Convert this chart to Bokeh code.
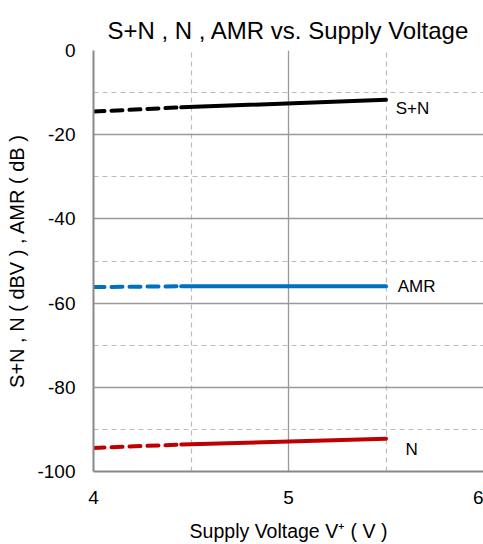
from bokeh.plotting import figure
from bokeh.models import FixedTicker, ColumnDataSource
from bokeh.core.properties import value
from bokeh.embed import file_html
from bokeh.resources import INLINE

# Data
voltages = [4.0, 4.45, 5.5]
s_plus_n = [-14.5, -13.5, -11.7]
amr = [-56.2, -56.0, -56.0]
noise = [-94.4, -93.6, -92.2]

x_ticks = [4, 5, 6]
y_ticks = [0, -20, -40, -60, -80, -100]
x_minor = [4.5, 5.5]
y_minor = [-10, -30, -50, -70, -90]

label_text = ["S+N", "AMR", "N"]
label_x = [5.55, 5.56, 5.6]
label_y = [-13.8, -56.0, -94.8]

FONT = "Liberation Sans"

p = figure(width=483, height=544, x_range=(4, 6), y_range=(-100, 0),
           output_backend="svg", toolbar_location=None,
           min_border_left=93, min_border_right=0, min_border_top=50,
           min_border_bottom=73)
p.outline_line_color = None
p.background_fill_color = "white"
p.border_fill_color = "white"

p.title.text = "S+N , N , AMR vs. Supply Voltage"
p.title.align = "center"
p.title.vertical_align = "top"
p.title.text_font = FONT
p.title.text_font_size = "24px"
p.title.text_font_style = "normal"
p.title.text_color = "#000000"
p.title.standoff = 10

p.xaxis.ticker = FixedTicker(ticks=x_ticks, minor_ticks=x_minor)
p.yaxis.ticker = FixedTicker(ticks=y_ticks, minor_ticks=y_minor)
p.xaxis.major_label_overrides = {t: str(t) for t in x_ticks}
p.yaxis.major_label_overrides = {t: str(t) for t in y_ticks}
for ax in (p.xaxis, p.yaxis):
    ax.axis_line_color = "#888888"
    ax.axis_line_width = 2
    ax.major_tick_line_color = None
    ax.minor_tick_line_color = None
    ax.major_tick_out = 0
    ax.major_tick_in = 0
    ax.minor_tick_out = 0
    ax.minor_tick_in = 0
    ax.major_label_text_font = FONT
    ax.major_label_text_font_size = "19px"
    ax.major_label_text_color = "#000000"
    ax.axis_label_text_font = FONT
    ax.axis_label_text_font_style = "normal"
    ax.axis_label_text_color = "#000000"
p.xaxis.axis_label_text_font_size = "19.5px"
p.yaxis.axis_label_text_font_size = "20px"
p.xaxis.major_label_standoff = 19
p.yaxis.major_label_standoff = 18
p.xaxis.axis_label = "Supply Voltage V\u207a ( V )"
p.yaxis.axis_label = "S+N , N ( dBV ) , AMR ( dB )"
p.xaxis.axis_label_standoff = 13
p.yaxis.axis_label_standoff = 6

for g in (p.xgrid, p.ygrid):
    g.grid_line_color = "#999999"
    g.grid_line_width = 1.3
    g.minor_grid_line_color = "#bbbbbb"
    g.minor_grid_line_dash = "5 4"
    g.minor_grid_line_width = 1.2

series = [(s_plus_n, "#000000"), (amr, "#0070C0"), (noise, "#C00000")]
for ys, col in series:
    p.line(voltages[:2], ys[:2], line_color=col, line_width=4,
           line_dash="11 7", line_cap="round")
    p.line(voltages[1:], ys[1:], line_color=col, line_width=4,
           line_cap="round")

src = ColumnDataSource(dict(x=label_x, y=label_y, t=label_text))
p.text(x="x", y="y", text="t", source=src, text_align="left",
       text_baseline="middle", text_font=value(FONT),
       text_font_size="17px", text_color="#000000")

open("out.html", "w").write(file_html(p, INLINE))
